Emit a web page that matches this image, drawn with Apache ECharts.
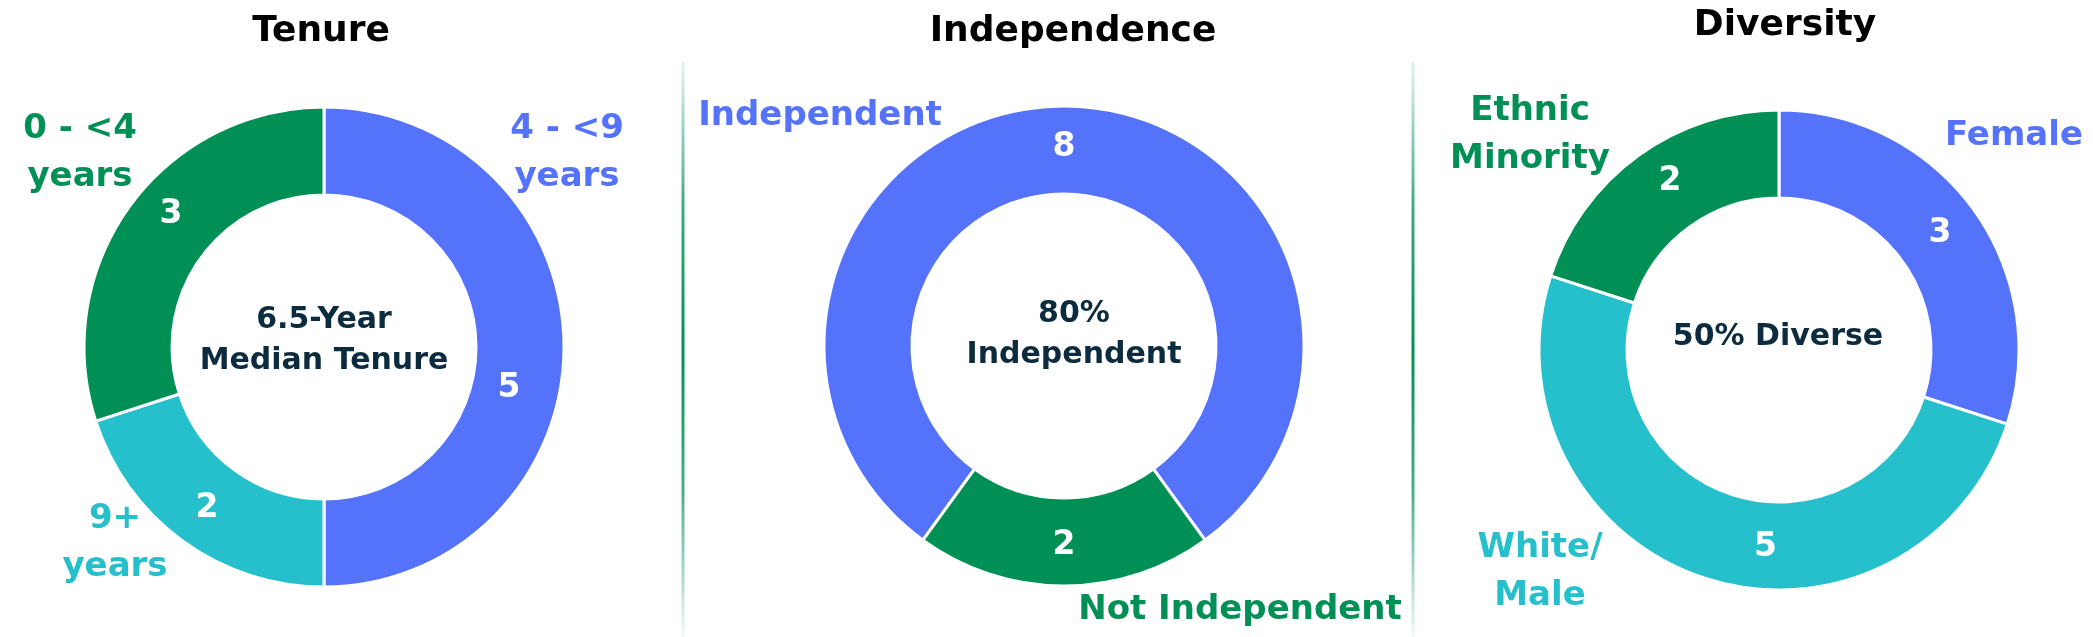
<!DOCTYPE html>
<html>
<head>
<meta charset="utf-8">
<script src="https://cdn.jsdelivr.net/npm/echarts@6/dist/echarts.min.js"></script>
<style>
html,body{margin:0;padding:0;background:#fff;}
#chart{width:2093px;height:637px;}
</style>
</head>
<body>
<div id="chart"></div>
<script>
// ---- data ----
const panelTitles = ['Tenure', 'Independence', 'Diversity'];
const centerTexts = ['6.5-Year\nMedian Tenure', '80%\nIndependent', '50% Diverse'];

const tenureCategories = ['4 - <9\nyears', '9+\nyears', '0 - <4\nyears'];
const tenureValues = [5, 2, 3];

const independenceCategories = ['Independent', 'Not Independent'];
const independenceValues = [8, 2];

const diversityCategories = ['Female', 'White/\nMale', 'Ethnic\nMinority'];
const diversityValues = [3, 5, 2];

// ---- styling / layout ----
const BLUE = '#5473FA', CYAN = '#25C0CC', GREEN = '#008F55', NAVY = '#0D2B3E';
const FONT = 'DejaVu Sans';

const panels = [
  { cats: tenureCategories, vals: tenureValues, colors: [BLUE, CYAN, GREEN],
    center: [324, 347], startAngle: 90,
    titlePos: [321, 32], centerPos: [324, 341],
    outside: [[567, 153], [115, 543], [80, 153]],
    labelOffset: [[-14, 41], [0, 0], [8, -16]] },
  { cats: independenceCategories, vals: independenceValues, colors: [BLUE, GREEN],
    center: [1064, 346], startAngle: 234,
    titlePos: [1073, 32], centerPos: [1074, 335],
    outside: [[820, 116], [1240, 610]],
    labelOffset: [[0, 0], [0, 0]] },
  { cats: diversityCategories, vals: diversityValues, colors: [BLUE, CYAN, GREEN],
    center: [1779, 350], startAngle: 90,
    titlePos: [1785, 26], centerPos: [1778, 337],
    outside: [[2014, 136], [1540, 572], [1530, 135]],
    labelOffset: [[0, 0], [48, 8], [8, -8]] }
];

const series = panels.map(p => ({
  type: 'pie',
  center: p.center,
  radius: [152, 240],
  startAngle: p.startAngle,
  clockwise: true,
  silent: true,
  animation: false,
  itemStyle: { borderColor: '#fff', borderWidth: 3 },
  label: {
    show: true, position: 'inside', rotate: 0,
    formatter: '{c}', color: '#fff', fontFamily: FONT, fontWeight: 'bold', fontSize: 33
  },
  labelLine: { show: false },
  data: p.vals.map((v, i) => ({
    value: v, name: p.cats[i],
    itemStyle: { color: p.colors[i] },
    label: { offset: p.labelOffset[i] }
  }))
}));

const graphics = [];
panels.forEach((p, k) => {
  graphics.push({
    type: 'text', x: p.titlePos[0], y: p.titlePos[1],
    style: { text: panelTitles[k], fill: '#000', font: `bold 36px "${FONT}"`, align: 'center', verticalAlign: 'middle' }
  });
  graphics.push({
    type: 'text', x: p.centerPos[0], y: p.centerPos[1],
    style: { text: centerTexts[k], fill: NAVY, font: `bold 30px "${FONT}"`, lineHeight: 41, align: 'center', verticalAlign: 'middle' }
  });
  p.cats.forEach((c, i) => {
    graphics.push({
      type: 'text', x: p.outside[i][0], y: p.outside[i][1],
      style: { text: c, fill: p.colors[i], font: `bold 34px "${FONT}"`, lineHeight: 48, align: 'center', verticalAlign: 'middle' }
    });
  });
});

const sepGradient = {
  type: 'linear', x: 0, y: 0, x2: 0, y2: 1,
  colorStops: [
    { offset: 0, color: 'rgba(0,143,85,0.1)' },
    { offset: 0.25, color: 'rgba(0,143,85,0.75)' },
    { offset: 0.5, color: 'rgba(0,143,85,1)' },
    { offset: 0.75, color: 'rgba(0,143,85,0.7)' },
    { offset: 1, color: 'rgba(0,143,85,0.05)' }
  ]
};
[683, 1413].forEach(x => {
  graphics.push({
    type: 'rect', shape: { x: x - 1.5, y: 62, width: 3, height: 575 },
    style: { fill: sepGradient }, silent: true
  });
});

const chart = echarts.init(document.getElementById('chart'), null, { renderer: 'canvas' });
chart.setOption({
  backgroundColor: '#fff',
  animation: false,
  series: series,
  graphic: graphics
});
</script>
</body>
</html>
